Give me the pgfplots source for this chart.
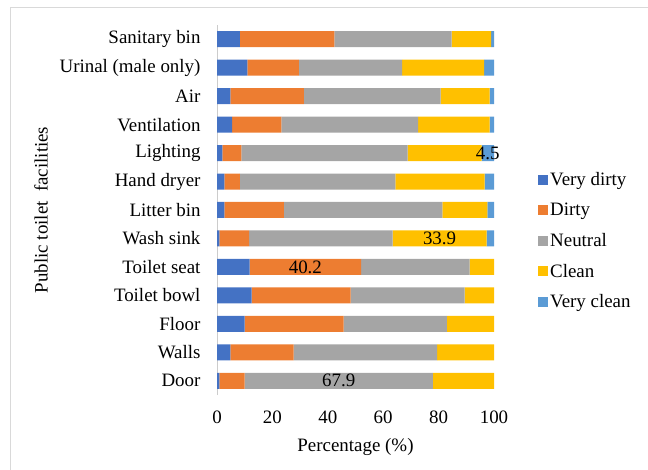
\documentclass[border=0pt]{standalone}
\usepackage{pgfplots}
\pgfplotsset{compat=1.18}
\usepackage{fontspec}
\setmainfont{Liberation Serif}
\definecolor{c1}{HTML}{4472C4}
\definecolor{c2}{HTML}{ED7D31}
\definecolor{c3}{HTML}{A5A5A5}
\definecolor{c4}{HTML}{FFC000}
\definecolor{c5}{HTML}{5B9BD5}
\newcommand{\ff}{\fontsize{19}{22}\selectfont}
\begin{document}
\begin{tikzpicture}
\useasboundingbox (0,0) rectangle (648bp,470bp);
\draw[black!15, line width=0.8bp] (10bp,-2bp) rectangle (652bp,463bp);
\begin{axis}[
  at={(217bp,75bp)}, anchor=south west,
  scale only axis, width=277bp, height=370bp,
  xbar stacked, bar width=16bp,
  xmin=0, xmax=100, ymin=-0.5, ymax=12.5,
  xtick={0,20,40,60,80,100},
  ytick={0,...,12},
  yticklabels={Door,Walls,Floor,Toilet bowl,Toilet seat,Wash sink,Litter bin,Hand dryer,Lighting,Ventilation,Air,Urinal (male only),Sanitary bin},
  axis lines*=left,
  x axis line style={draw=none},
  y axis line style={draw=black!20, line width=0.8bp},
  major tick length=0,
  /pgf/number format/assume math mode=true,
  tick label style={font=\ff},
  xticklabel style={yshift=-12bp},
  yticklabel style={xshift=-13bp},
  xlabel={Percentage (\%)},
  ylabel={Public toilet\ \ facilities},
  label style={font=\ff},
  xlabel style={at={(axis description cs:0.5,0)}, anchor=center, yshift=-52bp},
  ylabel style={at={(axis description cs:-0.635,0.5)}, anchor=center},
  legend style={at={(axis description cs:1.148,0.416)}, anchor=west, draw=none, fill=none, font=\ff, row sep=12bp,
    nodes={inner xsep=2bp}},
  legend cell align=left,
  legend image code/.code={\fill[#1] (0bp,-5bp) rectangle (10bp,5bp);},
  every axis plot/.append style={draw=none},
]
\addplot[fill=c1] coordinates {(0.9,0) (4.8,1) (10.0,2) (12.5,3) (11.8,4) (0.9,5) (2.7,6) (2.7,7) (1.9,8) (5.5,9) (4.8,10) (11.0,11) (8.3,12)};
\addplot[fill=c2] coordinates {(9.1,0) (22.9,1) (35.7,2) (35.7,3) (40.2,4) (10.7,5) (21.4,6) (5.6,7) (6.9,8) (17.7,9) (26.6,10) (18.6,11) (34.1,12)};
\addplot[fill=c3] coordinates {(67.9,0) (51.8,1) (37.3,2) (41.2,3) (39.2,4) (51.8,5) (57.3,6) (56.1,7) (60.0,8) (49.4,9) (49.3,10) (37.2,11) (42.3,12)};
\addplot[fill=c4] coordinates {(22.1,0) (20.5,1) (17.0,2) (10.6,3) (8.8,4) (33.9,5) (16.2,6) (32.2,7) (26.7,8) (25.8,9) (17.7,10) (29.6,11) (14.3,12)};
\addplot[fill=c5] coordinates {(0,0) (0,1) (0,2) (0,3) (0,4) (2.7,5) (2.4,6) (3.4,7) (4.5,8) (1.6,9) (1.6,10) (3.6,11) (1.0,12)};
\legend{Very dirty,Dirty,Neutral,Clean,Very clean}
\coordinate (la) at (axis cs:97.75,8);
\coordinate (lb) at (axis cs:80.35,5);
\coordinate (lc) at (axis cs:31.9,4);
\coordinate (ld) at (axis cs:43.95,0);
\end{axis}
\node[font=\ff] at (la) {4.5};
\node[font=\ff] at (lb) {33.9};
\node[font=\ff] at (lc) {40.2};
\node[font=\ff] at (ld) {67.9};
\end{tikzpicture}
\end{document}
